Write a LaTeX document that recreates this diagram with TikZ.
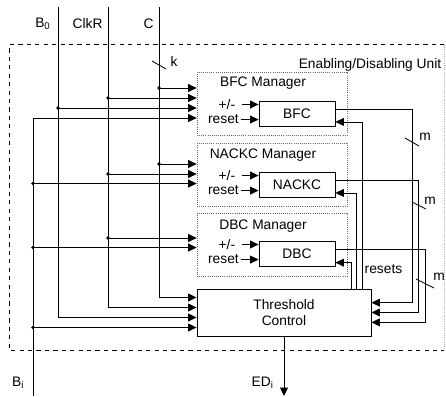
\documentclass[tikz,border=0pt]{standalone}
\usepackage{fontspec}
\setmainfont{Liberation Sans}
\usepackage{tikz}
\usetikzlibrary{shapes,positioning,arrows.meta}

\begin{document}
\begin{tikzpicture}[
    x=0.025cm,
    y=-0.025cm,
    font=\fontsize{9.8}{11.5}\selectfont,
    line width=0.6pt,
    unit/.style={
        rectangle,
        minimum width=10.85cm,
        minimum height=7.625cm,
        inner sep=0pt
    },
    manager/.style={
        rectangle,
        draw=black!60,
        line width=0.5pt,
        densely dotted,
        minimum width=3.75cm,
        minimum height=1.575cm
    },
    counter/.style={
        rectangle,
        draw=black,
        minimum width=1.9cm,
        minimum height=0.625cm
    },
    control/.style={
        rectangle,
        draw=black,
        minimum width=4.35cm,
        minimum height=1.175cm,
        align=center
    },
    lbl/.style={inner sep=1pt},
    tip/.style={-{Triangle[length=6pt,width=5.6pt]}}
]
    \useasboundingbox (0,0) rectangle (446,396);

    % --- UNIT ---
    \node [unit] (unit) at (227,197.5) {};
    \draw [dashed] (unit.north east) -- (unit.north west) -- (unit.south west) -- (unit.south east);
    \draw [densely dotted, black!30] (unit.north east) -- (unit.south east);
    \node [lbl, anchor=east] (unitname) at ([xshift=-1pt,yshift=-14.2pt]unit.north east) {Enabling/Disabling Unit};

    % --- MANAGERS ---
    \node [manager] (bfcmgr) at (272,103.5) {};
    \node [manager] (nackcmgr) at (272,175) {};
    \node [manager] (dbcmgr) at (272,244.5) {};

    \node [lbl] (bfctitle) at ([xshift=-6.4pt,yshift=-8.5pt]bfcmgr.north) {BFC Manager};
    \node [lbl] (nackctitle) at ([xshift=-6.4pt,yshift=-8.5pt]nackcmgr.north) {NACKC Manager};
    \node [lbl] (dbctitle) at ([xshift=-6.4pt,yshift=-9.5pt]dbcmgr.north) {DBC Manager};

    % --- COUNTERS ---
    \node [counter] (bfc) at (297,113.5) {BFC};
    \node [counter] (nackc) at (297,184.5) {NACKC};
    \node [counter] (dbc) at (297,253.5) {DBC};

    \node [control] (thr) at (284,312.5) {Threshold\\Control};

    % counter inputs
    \node [lbl, anchor=east] (bfcpm) at ([xshift=-15.4pt,yshift=6.4pt]bfc.west) {+/-};
    \node [lbl, anchor=east] (bfcrs) at ([xshift=-12.8pt,yshift=-4.3pt]bfc.west) {reset};
    \draw [tip] ([xshift=3.3pt]bfcpm.east) -- (bfcpm -| bfc.west);
    \draw [tip] (bfcrs.east) -- (bfcrs -| bfc.west);

    \node [lbl, anchor=east] (nackcpm) at ([xshift=-15.4pt,yshift=6.4pt]nackc.west) {+/-};
    \node [lbl, anchor=east] (nackcrs) at ([xshift=-12.8pt,yshift=-4.3pt]nackc.west) {reset};
    \draw [tip] ([xshift=3.3pt]nackcpm.east) -- (nackcpm -| nackc.west);
    \draw [tip] (nackcrs.east) -- (nackcrs -| nackc.west);

    \node [lbl, anchor=east] (dbcpm) at ([xshift=-15.4pt,yshift=6.4pt]dbc.west) {+/-};
    \node [lbl, anchor=east] (dbcrs) at ([xshift=-12.8pt,yshift=-4.3pt]dbc.west) {reset};
    \draw [tip] ([xshift=3.3pt]dbcpm.east) -- (dbcpm -| dbc.west);
    \draw [tip] (dbcrs.east) -- (dbcrs -| dbc.west);

    % --- INPUT LINES ---
    \coordinate (b0top) at (58,7);
    \coordinate (clktop) at (108,7);
    \coordinate (ctop) at (159,7);
    \coordinate (bibot) at (33,396);
    \coordinate (edout) at (284,396);

    \node [lbl, anchor=east] (b0label) at ([xshift=-4pt,yshift=-12pt]b0top) {B\textsubscript{0}};
    \node [lbl, anchor=east] (clklabel) at ([xshift=-2.6pt,yshift=-12pt]clktop) {ClkR};
    \node [lbl, anchor=east] (clabel) at ([xshift=-2.6pt,yshift=-12pt]ctop) {C};
    \node [lbl, anchor=east] (bilabel) at ([xshift=-5pt,yshift=9.2pt]bibot) {B\textsubscript{i}};

    % into Threshold Control
    \draw [tip] (ctop) |- (thr.west |- 0,297.5);
    \draw [tip] (clktop) |- (thr.west |- 0,307.5);
    \draw [tip] (b0top) |- (thr.west |- 0,317.5);
    \draw [tip] (bibot |- 0,327.5) -- (thr.west |- 0,327.5);
    \fill (bibot |- 0,327.5) circle (1.4pt);

    % into BFC Manager
    \draw [tip] (ctop |- 0,88) -- (bfcmgr.west |- 0,88);
    \draw [tip] (clktop |- 0,98) -- (bfcmgr.west |- 0,98);
    \draw [tip] (b0top |- 0,108) -- (bfcmgr.west |- 0,108);
    \draw [tip] (bibot) |- (bfcmgr.west |- 0,118);
    \fill (ctop |- 0,88) circle (1.4pt) (clktop |- 0,98) circle (1.4pt) (b0top |- 0,108) circle (1.4pt);

    % into NACKC Manager
    \draw [tip] (ctop |- 0,164) -- (nackcmgr.west |- 0,164);
    \draw [tip] (clktop |- 0,174) -- (nackcmgr.west |- 0,174);
    \draw [tip] (bibot |- 0,183.5) -- (nackcmgr.west |- 0,183.5);
    \fill (ctop |- 0,164) circle (1.4pt) (clktop |- 0,174) circle (1.4pt) (bibot |- 0,183.5) circle (1.4pt);

    % into DBC Manager
    \draw [tip] (clktop |- 0,238) -- (dbcmgr.west |- 0,238);
    \draw [tip] (bibot |- 0,247.5) -- (dbcmgr.west |- 0,247.5);
    \fill (clktop |- 0,238) circle (1.4pt) (bibot |- 0,247.5) circle (1.4pt);

    % --- COUNTS TO THRESHOLD ---
    \draw [tip] ([yshift=3.2pt]bfc.east) -- ++(77,0) |- ([yshift=7pt]thr.east);
    \draw [tip] ([yshift=3.2pt]nackc.east) -- ++(83,0) |- (thr.east);
    \draw [tip] ([yshift=3.2pt]dbc.east) -- ++(90,0) |- ([yshift=-7pt]thr.east);

    \draw (152,61) -- (166,69);
    \node [lbl] (kbus) at (174,62) {k};
    \draw (405,138) -- (419,146);
    \node [lbl] (mbfc) at (425,137) {m};
    \draw (412,202) -- (426,209);
    \node [lbl] (mnackc) at (430,201) {m};
    \draw (416,279) -- (434,288);
    \node [lbl] (mdbc) at (439,277) {m};

    % --- RESETS ---
    \draw [tip] ([xshift=55.5pt]thr.north) |- ([yshift=-6pt]bfc.east);
    \draw [tip] ([xshift=51.2pt]thr.north) |- ([yshift=-6pt]nackc.east);
    \draw [tip] ([xshift=47.7pt]thr.north) |- ([yshift=-6.5pt]dbc.east);
    \node [lbl] (resets) at (383.5,269) {resets};

    % --- OUTPUT ---
    \draw [tip] (thr.south) -- (edout);
    \node [lbl, anchor=east] (edlabel) at ([xshift=-6pt,yshift=9.2pt]edout) {ED\textsubscript{i}};

\end{tikzpicture}
\end{document}
